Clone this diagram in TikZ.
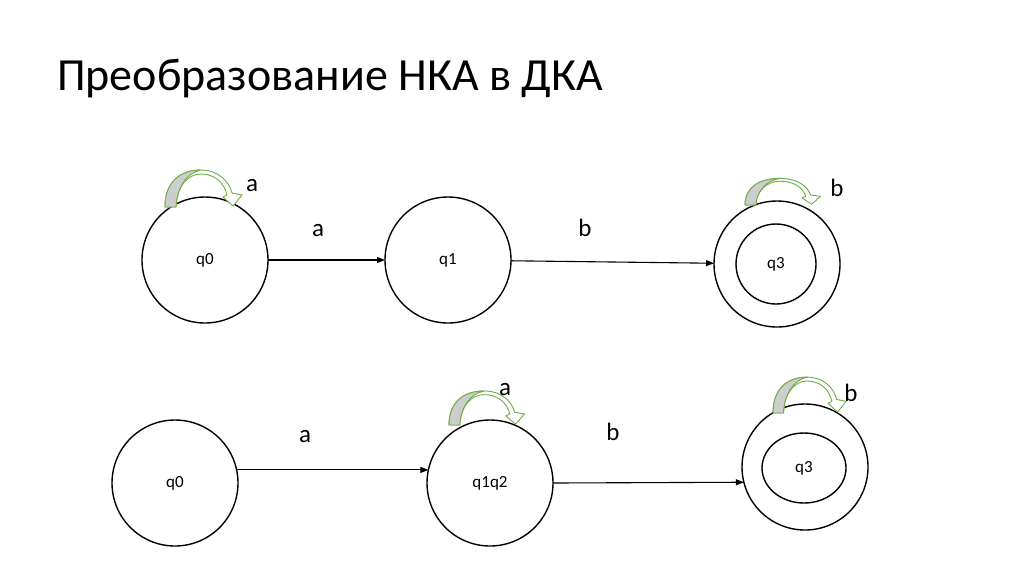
\documentclass[tikz,border=0pt]{standalone}
\usepackage{fontspec}
\setmainfont{Carlito}
\usetikzlibrary{arrows.meta,shapes.geometric}
\definecolor{loopgreen}{RGB}{112,173,71}
\definecolor{loopgrey}{RGB}{205,205,205}
\tikzset{
  state/.style={circle,draw=black,line width=1.4pt,minimum size=126pt,inner sep=0pt,outer sep=0pt,font=\fontsize{17}{19}\selectfont},
  innerstate/.style={ellipse,draw=black,line width=1.4pt,inner sep=0pt,outer sep=0pt},
  trans/.style={line width=1.1pt,-{Triangle[length=8pt,width=6pt]}},
  lbl/.style={font=\fontsize{25}{28}\selectfont,inner sep=0pt},
  loopband/.style={fill=white,draw=loopgreen,line width=0.9pt,line join=round},
  loopshade/.style={fill=loopgrey,draw=loopgreen,line width=0.9pt,line join=round},
}
\newcommand{\loopshape}[4]{% x, y of left foot, xscale, yscale
  \begin{scope}[shift={(#1,#2)},xscale=#3,yscale=#4]
    \path[loopband] (0,0) .. controls (0,-25) and (15,-37) .. (36,-37)
      .. controls (53,-37) and (64,-26) .. (67,-14) -- (77,-12) -- (68,-1) -- (58,-10) -- (62,-12)
      .. controls (59,-25) and (49,-33) .. (36,-33)
      .. controls (22,-33) and (12,-20) .. (11,0) -- cycle;
    \path[loopshade] (0,0) .. controls (0,-25) and (15,-37) .. (36,-37)
      .. controls (21,-34) and (12,-19) .. (11,0) -- cycle;
  \end{scope}}
\begin{document}
\begin{tikzpicture}[x=1pt,y=-1pt]
\useasboundingbox[fill=white] (0,0) rectangle (1024,574);
\node[anchor=base west,inner sep=0pt,font=\fontsize{46}{50}\selectfont] (title) at (57,90) {Преобразование НКА в ДКА};

% top row
\node[state] (q0) at (205,260) {q0};
\node[state] (q1) at (448,260) {q1};
\node[state] (q3) at (777,264) {};
\node[innerstate,minimum width=80pt,minimum height=80pt,font=\fontsize{17}{19}\selectfont] (q3i) at (776,264) {q3};
\draw[trans] (q0) -- (q1);
\draw[trans] (q1) -- (q3);
\node[lbl] (la1) at (318,231) {a};
\node[lbl] (lb1) at (585,228) {b};
\loopshape{165}{207}{1}{1}
\node[lbl] (lla1) at (252,186) {a};
\loopshape{745}{205}{0.98}{0.72}
\node[lbl] (llb1) at (837,188) {b};

% bottom row
\node[state] (p0) at (175,483) {q0};
\node[state] (p1) at (490,483) {q1q2};
\node[state] (p3) at (805,467) {};
\node[innerstate,minimum width=84pt,minimum height=70pt,font=\fontsize{17}{19}\selectfont] (p3i) at (804,468) {q3};
\draw[trans] (p0.12) -- (p1.168);
\draw[trans] (p1.east) -- (p3.194);
\node[lbl] (la2) at (305,437) {a};
\node[lbl] (lb2) at (613,432) {b};
\loopshape{449}{425}{0.98}{0.92}
\node[lbl] (lla2) at (505,390) {a};
\loopshape{773}{413}{0.95}{0.97}
\node[lbl] (llb2) at (851,393) {b};
\end{tikzpicture}
\end{document}
